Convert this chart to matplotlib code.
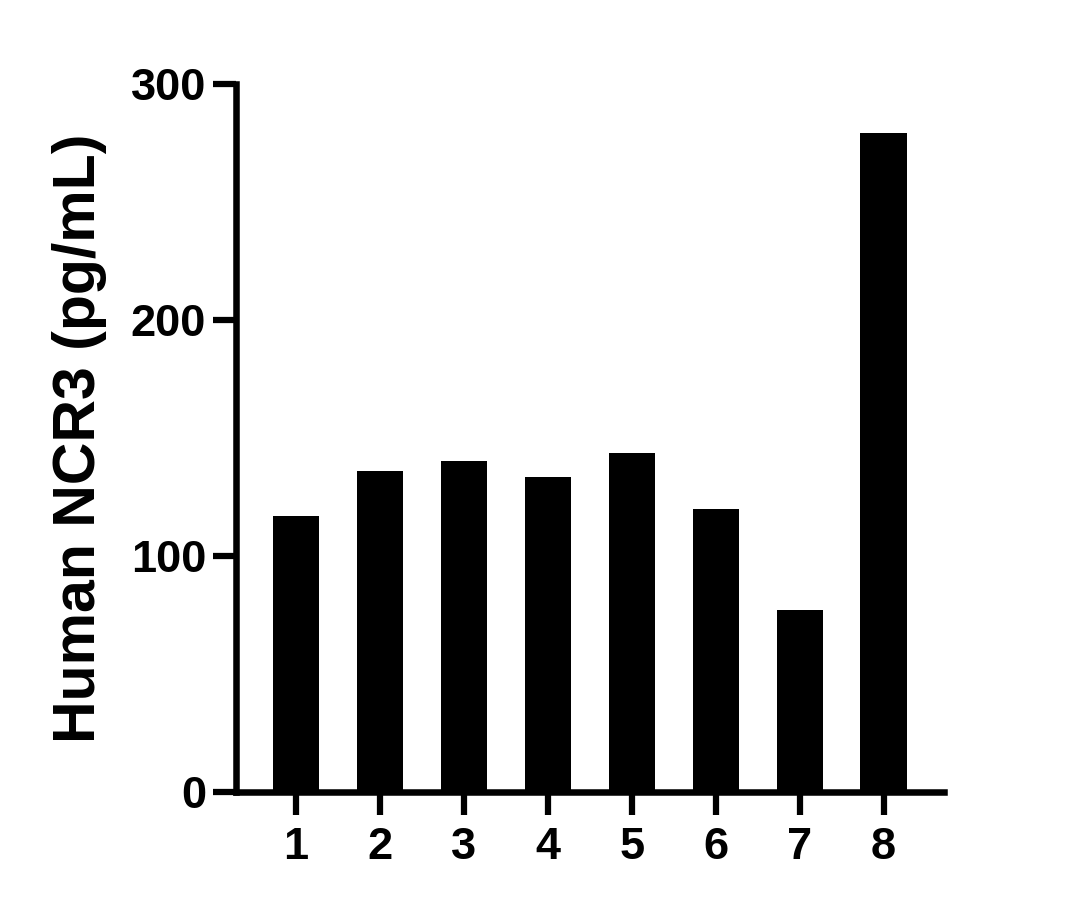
import numpy as np
import matplotlib
matplotlib.use('Agg')
import matplotlib.pyplot as plt

# data
samples = ['1', '2', '3', '4', '5', '6', '7', '8']
ncr3 = [117, 136, 140, 133.5, 143.5, 120, 77, 279]
y_ticks = [0, 100, 200, 300]

plt.rcParams['font.family'] = ['Liberation Sans', 'DejaVu Sans']
plt.rcParams['font.weight'] = 'bold'

fig = plt.figure(figsize=(10.78, 9.10), dpi=100)
ax = fig.add_axes([0.2189, 0.1297, 0.6568, 0.7783])

x = np.arange(1, len(samples) + 1)
ax.bar(x, ncr3, width=0.55, color='black', edgecolor='none')

ax.set_xlim(0.285, 8.72)
ax.set_ylim(0, 300)
ax.set_xticks(x)
ax.set_xticklabels(samples)
ax.set_yticks(y_ticks)

for side in ['top', 'right']:
    ax.spines[side].set_visible(False)
for side in ['left', 'bottom']:
    ax.spines[side].set_linewidth(4.7)

ax.tick_params(axis='both', length=16.5, width=4.5, labelsize=32.5, direction='out')
ax.tick_params(axis='x', pad=9)
ax.tick_params(axis='y', pad=5)

ax.set_ylabel('Human NCR3 (pg/mL)', fontsize=42.5, fontweight='bold')
ax.yaxis.set_label_coords(-0.182, 0.5)

fig.savefig('out.png', dpi=100)
